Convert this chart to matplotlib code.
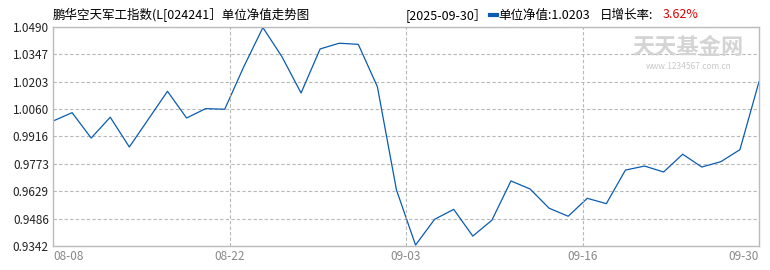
import matplotlib
matplotlib.use("Agg")
import matplotlib.pyplot as plt
from matplotlib.lines import Line2D

plt.rcParams["font.family"] = ["Noto Sans CJK SC", "DejaVu Sans"]

# unit NAV, one value per trading day 2025-08-08 .. 2025-09-30
nav = [0.9997, 1.0041, 0.9908, 1.0017, 0.9861, 1.0007, 1.0153, 1.0013, 1.0062, 1.0059,
       1.0282, 1.0487, 1.0334, 1.0144, 1.0375, 1.0405, 1.0399, 1.0177, 0.9636, 0.9347,
       0.9482, 0.9534, 0.9394, 0.9477, 0.9683, 0.9641, 0.9540, 0.9498, 0.9592, 0.9564,
       0.9740, 0.9761, 0.9730, 0.9823, 0.9756, 0.9784, 0.9847, 1.0203]
y_ticks = [0.9342, 0.9486, 0.9629, 0.9773, 0.9916, 1.0060, 1.0203, 1.0347, 1.0490]
x_labels = ["08-08", "08-22", "09-03", "09-16", "09-30"]

W, H = 770, 270
fig = plt.figure(figsize=(W / 100, H / 100), dpi=100)
ax = fig.add_axes([53 / W, 1 - 246 / H, (759 - 53) / W, (246 - 27) / H])

n = len(nav)
ax.plot(range(n), nav, color="#0a5cb0", linewidth=0.9)

ax.set_xlim(0, n - 1)
ax.set_ylim(y_ticks[0], y_ticks[-1])
ax.set_yticks(y_ticks)
ax.set_yticklabels([f"{v:.4f}" for v in y_ticks], fontsize=8.5, color="#222222")
xt = [(n - 1) * k / 4 for k in range(5)]
ax.set_xticks(xt)
ax.set_xticklabels(x_labels, fontsize=8.5, color="#888888")
labels = ax.get_xticklabels()
labels[0].set_ha("left")
labels[-1].set_ha("right")
ax.tick_params(length=0, pad=3)

ax.grid(True, axis="y", linestyle=(0, (3, 2)), color="#b8b8b8", linewidth=0.8)
for x in xt[1:-1]:
    ax.axvline(x, linestyle=(0, (3, 2)), color="#b8b8b8", linewidth=0.8)
for s in ax.spines.values():
    s.set_color("#bbbbbb")
    s.set_linewidth(1.0)

# watermark
ax.text(0.9, 0.905, "天天基金网", transform=ax.transAxes, fontsize=16, fontweight="bold",
        color="#d4d4d4", ha="center", va="center")
ax.text(0.9, 0.82, "www.1234567.com.cn", transform=ax.transAxes, fontsize=6,
        color="#c8c8c8", ha="center", va="center")

# header
ty = 1 - 15 / H
fig.text(53 / W, ty, "鹏华空天军工指数(L[024241］单位净值走势图", fontsize=9, va="center")
fig.text(406 / W, ty, "[2025-09-30］", fontsize=9, va="center")
fig.add_artist(Line2D([490 / W, 497 / W], [ty, ty], color="#0a5cb0", linewidth=3))
fig.text(498 / W, ty, f"单位净值:{nav[-1]:.4f}", fontsize=9, va="center")
fig.text(600 / W, ty, "日增长率:", fontsize=9, va="center")
fig.text(663 / W, ty, "3.62%", fontsize=9, va="center", color="#e00000")

fig.savefig("out.png", dpi=100)
